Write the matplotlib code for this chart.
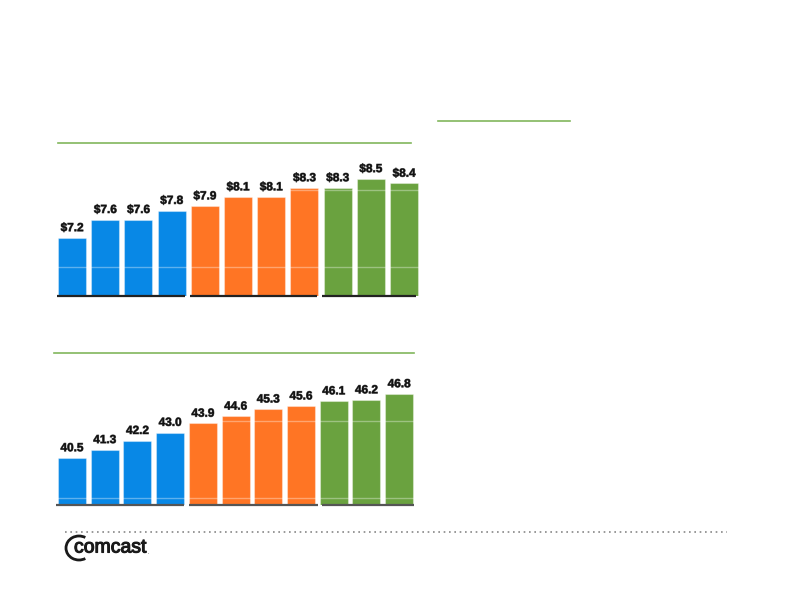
import matplotlib
matplotlib.use("Agg")
import matplotlib.pyplot as plt
from matplotlib.lines import Line2D
from matplotlib.patches import Arc
import matplotlib.patheffects as pe

# ---- data ----
revenue = [7.2, 7.6, 7.6, 7.8, 7.9, 8.1, 8.1, 8.3, 8.3, 8.5, 8.4]
revenue_labels = ["$7.2", "$7.6", "$7.6", "$7.8", "$7.9", "$8.1", "$8.1", "$8.3", "$8.3", "$8.5", "$8.4"]
units = [40.5, 41.3, 42.2, 43.0, 43.9, 44.6, 45.3, 45.6, 46.1, 46.2, 46.8]
unit_labels = ["40.5", "41.3", "42.2", "43.0", "43.9", "44.6", "45.3", "45.6", "46.1", "46.2", "46.8"]
groups = [4, 4, 3]

BLUE = "#0888E6"
ORANGE = "#FF7524"
GREEN = "#6AA23F"
LINEGREEN = "#82B65C"
group_colors = [BLUE] * groups[0] + [ORANGE] * groups[1] + [GREEN] * groups[2]

W, H = 792, 612
fig = plt.figure(figsize=(W / 100, H / 100), dpi=100)
fig.patch.set_facecolor("white")


def fx(px):
    return px / W


def fy(py):
    return 1 - py / H


def make_axes(x0, x_first, spacing, base_px, top_px, base_val, ppu, right_px):
    left = x0
    xl = (left - x_first) / spacing
    xr = (right_px - x_first) / spacing
    ax = fig.add_axes([fx(left), fy(base_px), fx(right_px - left), (base_px - top_px) / H])
    ax.set_xlim(xl, xr)
    ax.set_ylim(base_val, base_val + (base_px - top_px) / ppu)
    ax.axis("off")
    return ax


def draw(ax, values, labels, spacing, grid_vals, base_segments, basecolor):
    xs = list(range(len(values)))
    ax.bar(xs, [v - ax.get_ylim()[0] for v in values], bottom=ax.get_ylim()[0],
           width=28 / spacing, color=group_colors, edgecolor=(1, 1, 1, 0.35), linewidth=0.8, zorder=2)
    for g in grid_vals:
        ax.axhline(g, color="white", alpha=0.35, lw=1.0, zorder=3)
    for x, v, lab in zip(xs, values, labels):
        ax.annotate(lab, (x, v), xytext=(0, 7), textcoords="offset points",
                    ha="center", va="center", fontsize=8.5, fontweight="bold",
                    family="Liberation Sans", color="#111111", zorder=4,
                    path_effects=[pe.withStroke(linewidth=0.6, foreground="#666666")])
    y0 = ax.get_ylim()[0]
    for a, b in base_segments:
        ax.plot([a, b], [y0, y0], color=basecolor, lw=1.6, solid_capstyle="butt",
                clip_on=False, zorder=5)


# top chart
sp1 = 33.2
ax1 = make_axes(50, 72, sp1, 296, 150, 5.92, 45.4, 425)
draw(ax1, revenue, revenue_labels, sp1, [6.56, 8.25],
     [((57 - 72) / sp1, (185 - 72) / sp1), ((190 - 72) / sp1, (317 - 72) / sp1),
      ((322 - 72) / sp1, (416 - 72) / sp1)], "#222222")

# bottom chart
sp2 = 32.7
ax2 = make_axes(50, 72, sp2, 505, 360, 35.87, 10.16, 425)
draw(ax2, units, unit_labels, sp2, [36.56, 44.14],
     [((56 - 72) / sp2, (184 - 72) / sp2), ((189 - 72) / sp2, (318 - 72) / sp2),
      ((322 - 72) / sp2, (414 - 72) / sp2)], "#555555")

# green rule lines
for (x0, x1, y) in [(58, 411, 143), (54, 414, 353), (438, 570, 121)]:
    fig.add_artist(Line2D([fx(x0), fx(x1)], [fy(y), fy(y)], color=LINEGREEN, lw=1.2))

# dotted footer line
fig.add_artist(Line2D([fx(65), fx(727)], [fy(532), fy(532)], color="#888888",
                      lw=1.2, linestyle=(0, (1, 2.2))))

# Comcast logo approximation
fig.text(fx(74), fy(548), "comcast", fontsize=14, family="Liberation Sans",
         color="#1a1a1a", ha="left", va="center",
         path_effects=[pe.withStroke(linewidth=0.8, foreground="#1a1a1a")])
fig.text(fx(148), fy(553), ".", fontsize=4, family="Liberation Sans",
         color="#1a1a1a", ha="left", va="center")
arc = Arc((fx(79), fy(548)), 26 / W, 24 / H, theta1=65, theta2=295,
          transform=fig.transFigure, color="#1a1a1a", lw=2.0)
fig.add_artist(arc)

fig.savefig("out.png", dpi=100, facecolor="white")
